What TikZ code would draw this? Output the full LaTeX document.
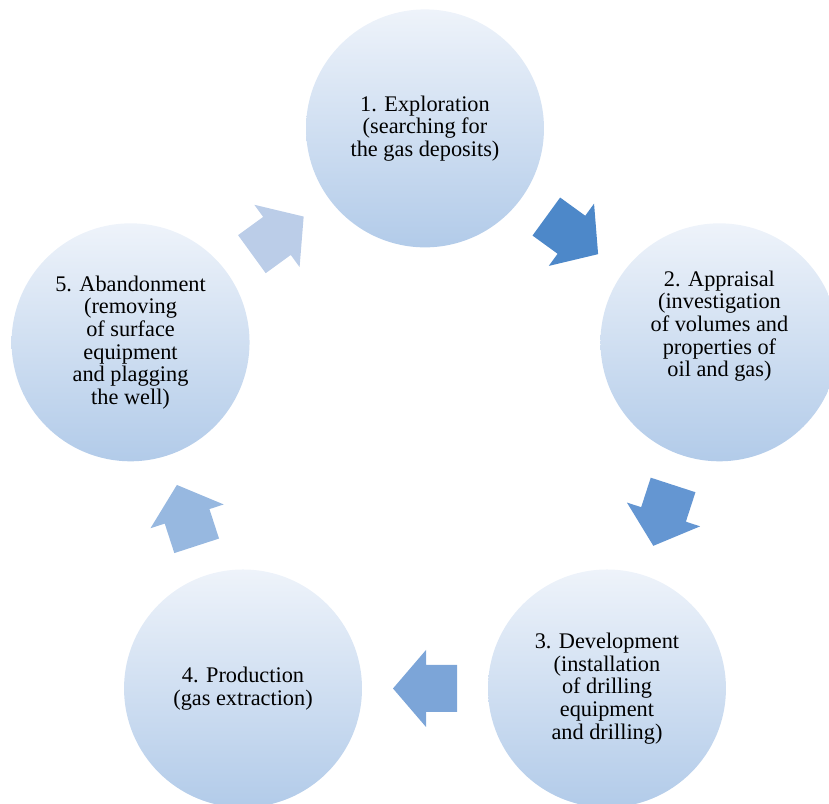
\documentclass[tikz,border=0pt]{standalone}
\usepackage{fontspec}
\setmainfont{Liberation Serif}
\usetikzlibrary{positioning,calc}

\definecolor{stageTop}{RGB}{238,243,250}
\definecolor{stageBottom}{RGB}{178,203,233}
\definecolor{arrowA}{RGB}{77,136,201}
\definecolor{arrowB}{RGB}{100,150,210}
\definecolor{arrowC}{RGB}{124,165,216}
\definecolor{arrowD}{RGB}{151,184,224}
\definecolor{arrowE}{RGB}{187,205,232}

\tikzset{
  stage/.style={circle, minimum size=4.76cm, inner sep=0pt, outer sep=0pt,
    top color=stageTop, bottom color=stageBottom},
  stagetext/.style={align=center, inner sep=0pt, text=black,
    font=\fontsize{12.7}{12.9}\selectfont}
}

\begin{document}
\begin{tikzpicture}[x=0.02cm, y=0.02cm]
  % Radius of the ring the five stages sit on (px)
  \newcommand{\ringR}{309.6}
  % Block arrow: centre, direction, colour
  \newcommand{\cyclearrow}[3]{%
    \fill[#3, shift={(#1)}, rotate=#2]
      (-32,-23.5) -- (-1,-23.5) -- (-1,-38.5) -- (32,0)
      -- (-1,38.5) -- (-1,23.5) -- (-32,23.5) -- cycle;}

  \useasboundingbox (0,0) rectangle (829,804);
  \clip (0,0) rectangle (829,804);

  \coordinate (centre) at (425,366);

  % Stages
  \node[stage] (c1) at ($(centre)+(90:\ringR)$) {};
  \node[stage] (c2) at ($(centre)+(18:\ringR)$) {};
  \node[stage] (c3) at ($(centre)+(-54:\ringR)$) {};
  \node[stage] (c4) at ($(centre)+(-126:\ringR)$) {};
  \node[stage] (c5) at ($(centre)+(162:\ringR)$) {};

  % Labels
  \node[stagetext] (t1) at (c1) {1. Exploration\\(searching for\\the gas deposits)};
  \node[stagetext] (t2) at ($(c2)+(0,16)$) {2. Appraisal\\(investigation\\of volumes and\\properties of\\oil and gas)};
  \node[stagetext] (t3) at (c3) {3. Development\\(installation\\of drilling\\equipment\\and drilling)};
  \node[stagetext] (t4) at (c4) {4. Production\\(gas extraction)};
  \node[stagetext] (t5) at (c5) {5. Abandonment\\(removing\\of surface\\equipment\\and plagging\\the well)};

  % Arrows between stages
  \coordinate (m12) at ($(c1)!0.5!(c2)$);
  \coordinate (m23) at ($(c2)!0.5!(c3)$);
  \coordinate (m34) at ($(c3)!0.5!(c4)$);
  \coordinate (m45) at ($(c4)!0.5!(c5)$);
  \coordinate (m51) at ($(c5)!0.5!(c1)$);
  \cyclearrow{m12}{-36}{arrowA}
  \cyclearrow{m23}{-108}{arrowB}
  \cyclearrow{m34}{180}{arrowC}
  \cyclearrow{m45}{108}{arrowD}
  \cyclearrow{m51}{36}{arrowE}
\end{tikzpicture}
\end{document}
